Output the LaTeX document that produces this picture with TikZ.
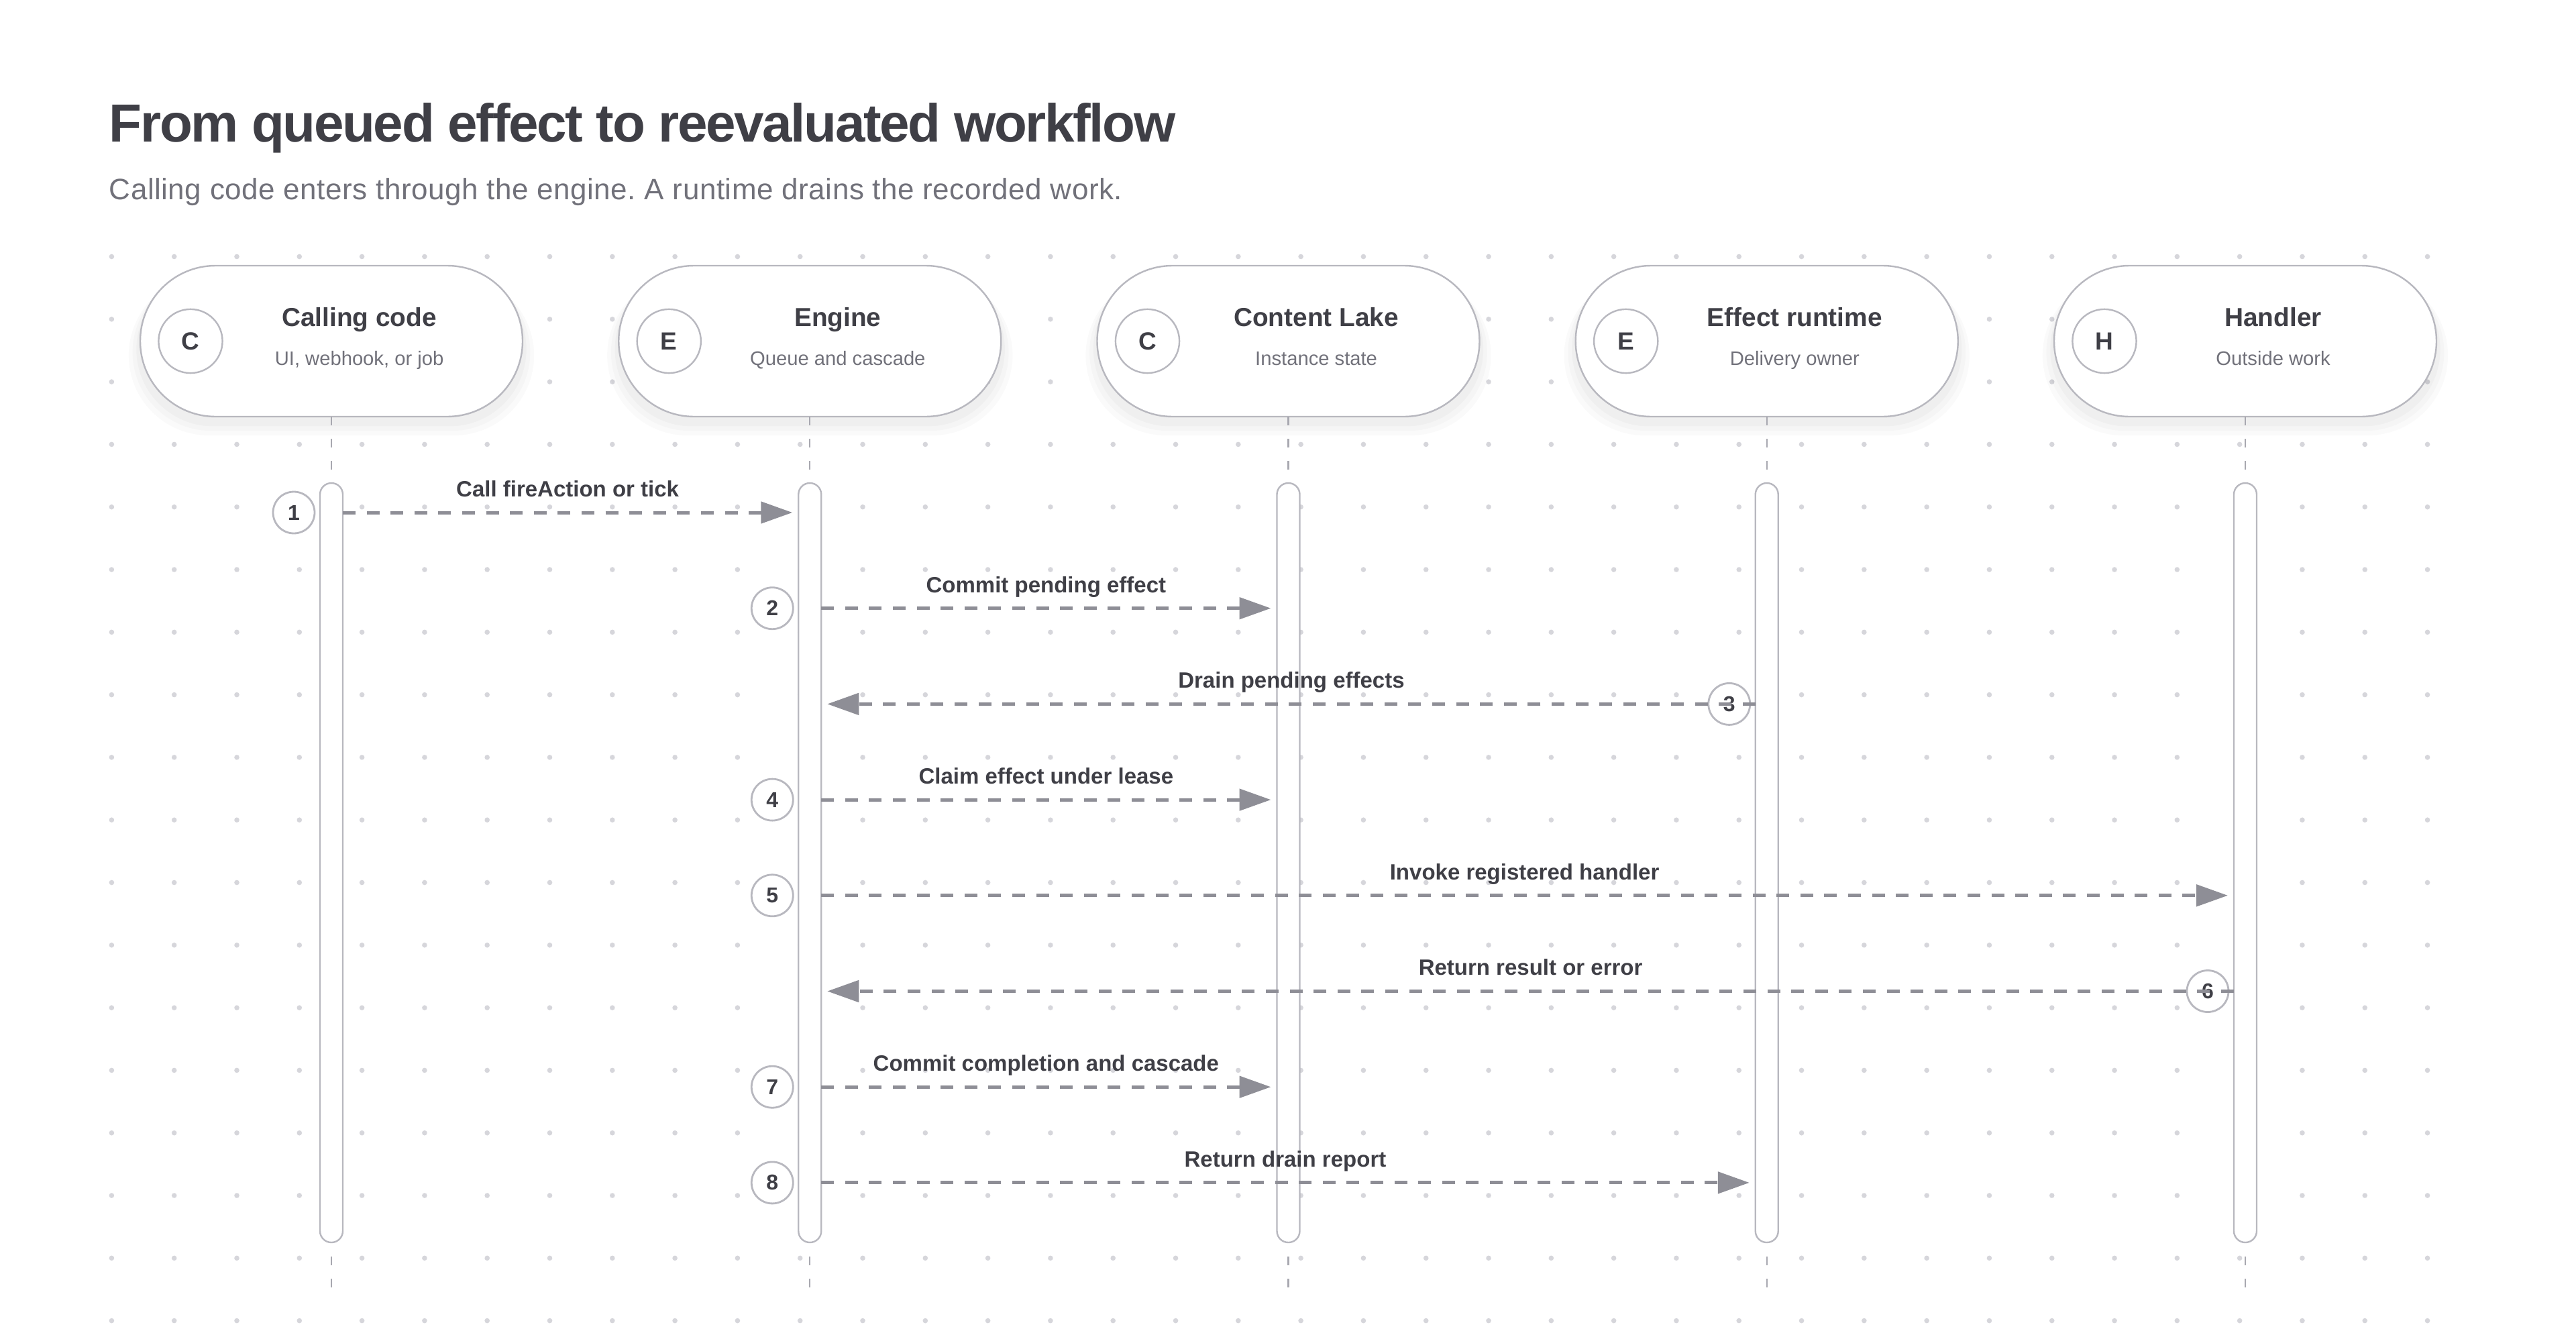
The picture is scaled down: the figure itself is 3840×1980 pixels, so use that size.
\documentclass[tikz,border=0pt]{standalone}
\usepackage{fontspec}
\setmainfont{Liberation Sans}
\usetikzlibrary{positioning, arrows.meta, shadows}
\frenchspacing

\definecolor{inkdark}{HTML}{3F3F46}
\definecolor{inkgray}{HTML}{71717A}
\definecolor{edgegray}{HTML}{B8B8BF}
\definecolor{arrowgray}{HTML}{8E8E96}
\definecolor{dotgray}{HTML}{D6D6DB}
\definecolor{stubgray}{HTML}{A8A8B0}

\tikzset{
  softshadow/.style={
    general shadow={fill=black, opacity=0.018, shadow scale=1.06, shadow yshift=-5pt},
    general shadow={fill=black, opacity=0.02, shadow scale=1.04, shadow yshift=-4pt},
    general shadow={fill=black, opacity=0.025, shadow scale=1.02, shadow yshift=-3pt}},
  header/.style={rectangle, draw=edgegray, line width=0.6pt, fill=white, rounded corners=28.1pt,
    minimum width=142.5pt, minimum height=56.25pt, outer sep=0pt, inner sep=0pt, softshadow},
  headicon/.style={circle, draw=edgegray, line width=0.6pt, fill=white, minimum size=23.8pt,
    inner sep=0pt, font=\fontsize{9.25}{10}\selectfont\bfseries, text=inkdark},
  headtitle/.style={anchor=base, inner sep=0pt, font=\fontsize{9.7}{11}\selectfont\bfseries, text=inkdark},
  headsub/.style={anchor=base, inner sep=0pt, font=\fontsize{7.3}{8}\selectfont, text=inkgray},
  actbar/.style={rectangle, draw=edgegray, line width=0.6pt, fill=white, rounded corners=4.25pt,
    minimum width=8.5pt, minimum height=283pt, outer sep=0pt, inner sep=0pt},
  lifeline/.style={draw=stubgray, line width=0.6pt, dash pattern=on 3.25pt off 5pt},
  stepnum/.style={circle, draw=edgegray, line width=0.7pt, fill=white, minimum size=15.5pt,
    inner sep=0pt, font=\fontsize{8}{9}\selectfont\bfseries, text=inkdark},
  msg/.style={draw=arrowgray, line width=1.25pt, dash pattern=on 4.75pt off 4.15pt,
    -{Triangle[length=11.75pt, width=8pt]}},
  msglabel/.style={midway, anchor=base, yshift=5.9pt, inner sep=0pt,
    font=\fontsize{8.25}{9}\selectfont\bfseries, text=inkdark},
}

\begin{document}
\begin{tikzpicture}[x=0.25pt, y=-0.25pt, node distance=35.81pt]
  \fill[white] (0,0) rectangle (3840,1980);
  \useasboundingbox (0,0) rectangle (3840,1980);

  % dot grid
  \foreach \i in {0,...,37}
    \foreach \j in {0,...,17}
      \fill[dotgray] (166.4+93.3*\i, 382.5+93.3*\j) circle[radius=3.8];

  \node[anchor=base west, inner sep=0pt, text=inkdark,
    font=\fontsize{20}{24}\selectfont\bfseries\addfontfeatures{LetterSpace=-3}] (title) at (162,211)
    {From queued effect to reevaluated workflow};
  \node[anchor=base west, inner sep=0pt, text=inkgray,
    font=\fontsize{11}{13}\selectfont\addfontfeatures{LetterSpace=1.2}] (subtitle) at (162,297)
    {Calling code enters through the engine. A runtime drains the recorded work.};

  % participants
  \node[header] (calling) at (494,508.5) {};
  \node[header, right=of calling] (engine) {};
  \node[header, right=of engine] (lake) {};
  \node[header, right=of lake] (runtime) {};
  \node[header, right=of runtime] (handler) {};

  \node[headicon] at ([xshift=18.75pt]calling.west) {C};
  \node[headicon] at ([xshift=18.75pt]engine.west) {E};
  \node[headicon] at ([xshift=18.75pt]lake.west) {C};
  \node[headicon] at ([xshift=18.75pt]runtime.west) {E};
  \node[headicon] at ([xshift=18.75pt]handler.west) {H};

  \node[headtitle] at ([xshift=10.4pt, yshift=5.4pt]calling.center) {Calling code};
  \node[headsub] at ([xshift=10.4pt, yshift=-8.9pt]calling.center) {UI, webhook, or job};
  \node[headtitle] at ([xshift=10.4pt, yshift=5.4pt]engine.center) {Engine};
  \node[headsub] at ([xshift=10.4pt, yshift=-8.9pt]engine.center) {Queue and cascade};
  \node[headtitle] at ([xshift=10.4pt, yshift=5.4pt]lake.center) {Content Lake};
  \node[headsub] at ([xshift=10.4pt, yshift=-8.9pt]lake.center) {Instance state};
  \node[headtitle] at ([xshift=10.4pt, yshift=5.4pt]runtime.center) {Effect runtime};
  \node[headsub] at ([xshift=10.4pt, yshift=-8.9pt]runtime.center) {Delivery owner};
  \node[headtitle] at ([xshift=10.4pt, yshift=5.4pt]handler.center) {Handler};
  \node[headsub] at ([xshift=10.4pt, yshift=-8.9pt]handler.center) {Outside work};

  % activation bars
  \node[actbar, below=24.75pt of calling] (callbar) {};
  \node[actbar, below=24.75pt of engine] (engbar) {};
  \node[actbar, below=24.75pt of lake] (lakebar) {};
  \node[actbar, below=24.75pt of runtime] (runbar) {};
  \node[actbar, below=24.75pt of handler] (handbar) {};

  \draw[lifeline] (calling.south) -- (callbar.north);
  \draw[lifeline] (engine.south) -- (engbar.north);
  \draw[lifeline] (lake.south) -- (lakebar.north);
  \draw[lifeline] (runtime.south) -- (runbar.north);
  \draw[lifeline] (handler.south) -- (handbar.north);
  \draw[lifeline] ([yshift=-5.25pt]callbar.south) -- ++(0,46);
  \draw[lifeline] ([yshift=-5.25pt]engbar.south) -- ++(0,46);
  \draw[lifeline] ([yshift=-5.25pt]lakebar.south) -- ++(0,46);
  \draw[lifeline] ([yshift=-5.25pt]runbar.south) -- ++(0,46);
  \draw[lifeline] ([yshift=-5.25pt]handbar.south) -- ++(0,46);

  % message rows
  \coordinate (r1) at (0,764);
  \coordinate (r2) at (0,906.7);
  \coordinate (r3) at (0,1049.4);
  \coordinate (r4) at (0,1192.1);
  \coordinate (r5) at (0,1334.8);
  \coordinate (r6) at (0,1477.5);
  \coordinate (r7) at (0,1620.2);
  \coordinate (r8) at (0,1762.9);

  \node[stepnum] (s1) at ([xshift=-14pt]callbar.center |- r1) {1};
  \node[stepnum] (s2) at ([xshift=-14pt]engbar.center |- r2) {2};
  \node[stepnum] (s3) at ([xshift=-14pt]runbar.center |- r3) {3};
  \node[stepnum] (s4) at ([xshift=-14pt]engbar.center |- r4) {4};
  \node[stepnum] (s5) at ([xshift=-14pt]engbar.center |- r5) {5};
  \node[stepnum] (s6) at ([xshift=-14pt]handbar.center |- r6) {6};
  \node[stepnum] (s7) at ([xshift=-14pt]engbar.center |- r7) {7};
  \node[stepnum] (s8) at ([xshift=-14pt]engbar.center |- r8) {8};

  \draw[msg] (callbar.east |- r1) -- ([xshift=-2.25pt]engbar.west |- r1)
    node[msglabel] {Call fireAction or tick};
  \draw[msg] (engbar.east |- r2) -- ([xshift=-2.25pt]lakebar.west |- r2)
    node[msglabel] {Commit pending effect};
  \draw[msg] (runbar.west |- r3) -- ([xshift=2.25pt]engbar.east |- r3)
    node[msglabel] {Drain pending effects};
  \draw[msg] (engbar.east |- r4) -- ([xshift=-2.25pt]lakebar.west |- r4)
    node[msglabel] {Claim effect under lease};
  \draw[msg] (engbar.east |- r5) -- ([xshift=-2.25pt]handbar.west |- r5)
    node[msglabel] {Invoke registered handler};
  \draw[msg] (handbar.west |- r6) -- ([xshift=2.25pt]engbar.east |- r6)
    node[msglabel] {Return result or error};
  \draw[msg] (engbar.east |- r7) -- ([xshift=-2.25pt]lakebar.west |- r7)
    node[msglabel] {Commit completion and cascade};
  \draw[msg] (engbar.east |- r8) -- ([xshift=-2.25pt]runbar.west |- r8)
    node[msglabel] {Return drain report};
\end{tikzpicture}
\end{document}
